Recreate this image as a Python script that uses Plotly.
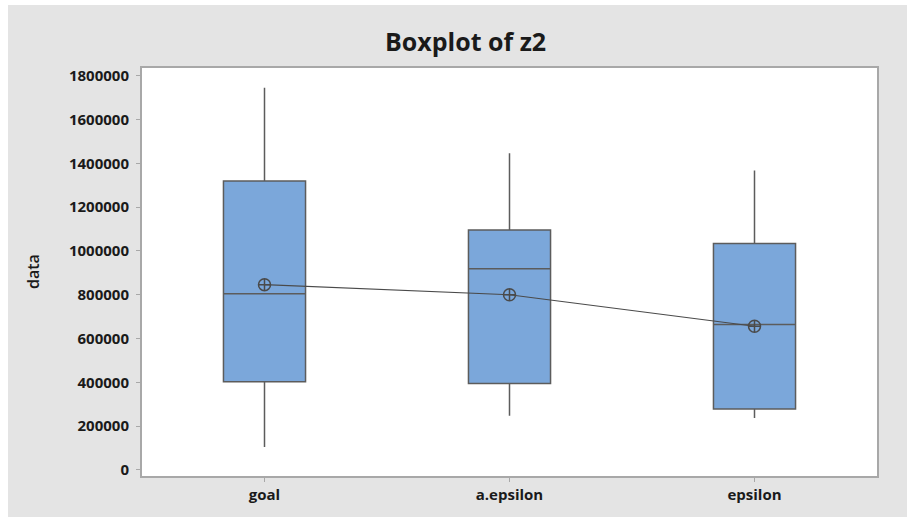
import plotly.graph_objects as go

# Summary statistics for each group of z2
groups = ["goal", "a.epsilon", "epsilon"]
lower_whisker = [105000, 247000, 237000]
q1 = [403000, 395000, 278000]
median = [805000, 919000, 664000]
q3 = [1319000, 1095000, 1034000]
upper_whisker = [1745000, 1446000, 1367000]
means = [846000, 800000, 656000]

y_ticks = [0, 200000, 400000, 600000, 800000, 1000000, 1200000, 1400000, 1600000, 1800000]

W, H = 907, 517
ML, MR, MT, MB = 142, 30, 68, 41
PW, PH = W - ML - MR, H - MT - MB

FONT = "Open Sans"
TXT = "#1a1a1a"

fig = go.Figure()

fig.add_trace(go.Box(
    x=groups,
    q1=q1, median=median, q3=q3,
    lowerfence=lower_whisker, upperfence=upper_whisker,
    width=0.335,
    whiskerwidth=0,
    fillcolor="#7ba7da",
    line=dict(color="#5c5c5c", width=1.5),
    boxpoints=False,
    showlegend=False,
    hoverinfo="skip",
))

# Means joined by a connect line
fig.add_trace(go.Scatter(
    x=groups, y=means,
    mode="lines+markers",
    line=dict(color="#4a4a4a", width=1.2),
    marker=dict(symbol="circle-cross-open", size=12,
                color="#4a4a4a", line=dict(width=1.5, color="#4a4a4a")),
    showlegend=False,
    hoverinfo="skip",
))

# thin white strips around the gray frame
fig.add_shape(type="rect", xref="paper", yref="paper", layer="below",
              x0=-ML / PW, x1=(8 - ML) / PW, y0=-MB / PH - 0.01, y1=1 + MT / PH + 0.01,
              fillcolor="white", line=dict(width=0))
fig.add_shape(type="rect", xref="paper", yref="paper", layer="below",
              x0=-ML / PW, x1=1 + MR / PW + 0.01, y0=1 + (MT - 5) / PH, y1=1 + MT / PH + 0.01,
              fillcolor="white", line=dict(width=0))

fig.add_annotation(text="<b>Boxplot of z2</b>", xref="paper", yref="paper",
                   x=(465 - ML) / PW, y=1 + (MT - 41) / PH,
                   xanchor="center", yanchor="middle", showarrow=False,
                   font=dict(family=FONT, size=25, color=TXT))
fig.add_annotation(text="data", xref="paper", yref="paper",
                   x=(33 - ML) / PW, y=(H - MB - 272) / PH,
                   xanchor="center", yanchor="middle", showarrow=False, textangle=-90,
                   font=dict(family=FONT, size=16, color=TXT, weight=600))

fig.update_layout(
    width=W, height=H,
    margin=dict(l=ML, r=MR, t=MT, b=MB),
    paper_bgcolor="#e4e4e4",
    plot_bgcolor="white",
    font=dict(family=FONT, color=TXT),
)
fig.update_xaxes(
    type="category", range=[-0.5, 2.5],
    showgrid=False, zeroline=False,
    showline=True, mirror=True, linecolor="#a8a8a8", linewidth=2,
    ticks="outside", ticklen=4, tickcolor="#a8a8a8",
    tickfont=dict(family=FONT, size=15, color=TXT, weight="bold"),
)
fig.update_yaxes(
    range=[-27500, 1835000],
    tickvals=y_ticks, ticktext=[str(v) for v in y_ticks],
    showgrid=False, zeroline=False,
    showline=True, mirror=True, linecolor="#a8a8a8", linewidth=2,
    ticks="outside", ticklen=4, tickcolor="#a8a8a8", ticklabelstandoff=4,
    tickfont=dict(family=FONT, size=15, color=TXT, weight="bold"),
)

fig.write_html("out.html")
